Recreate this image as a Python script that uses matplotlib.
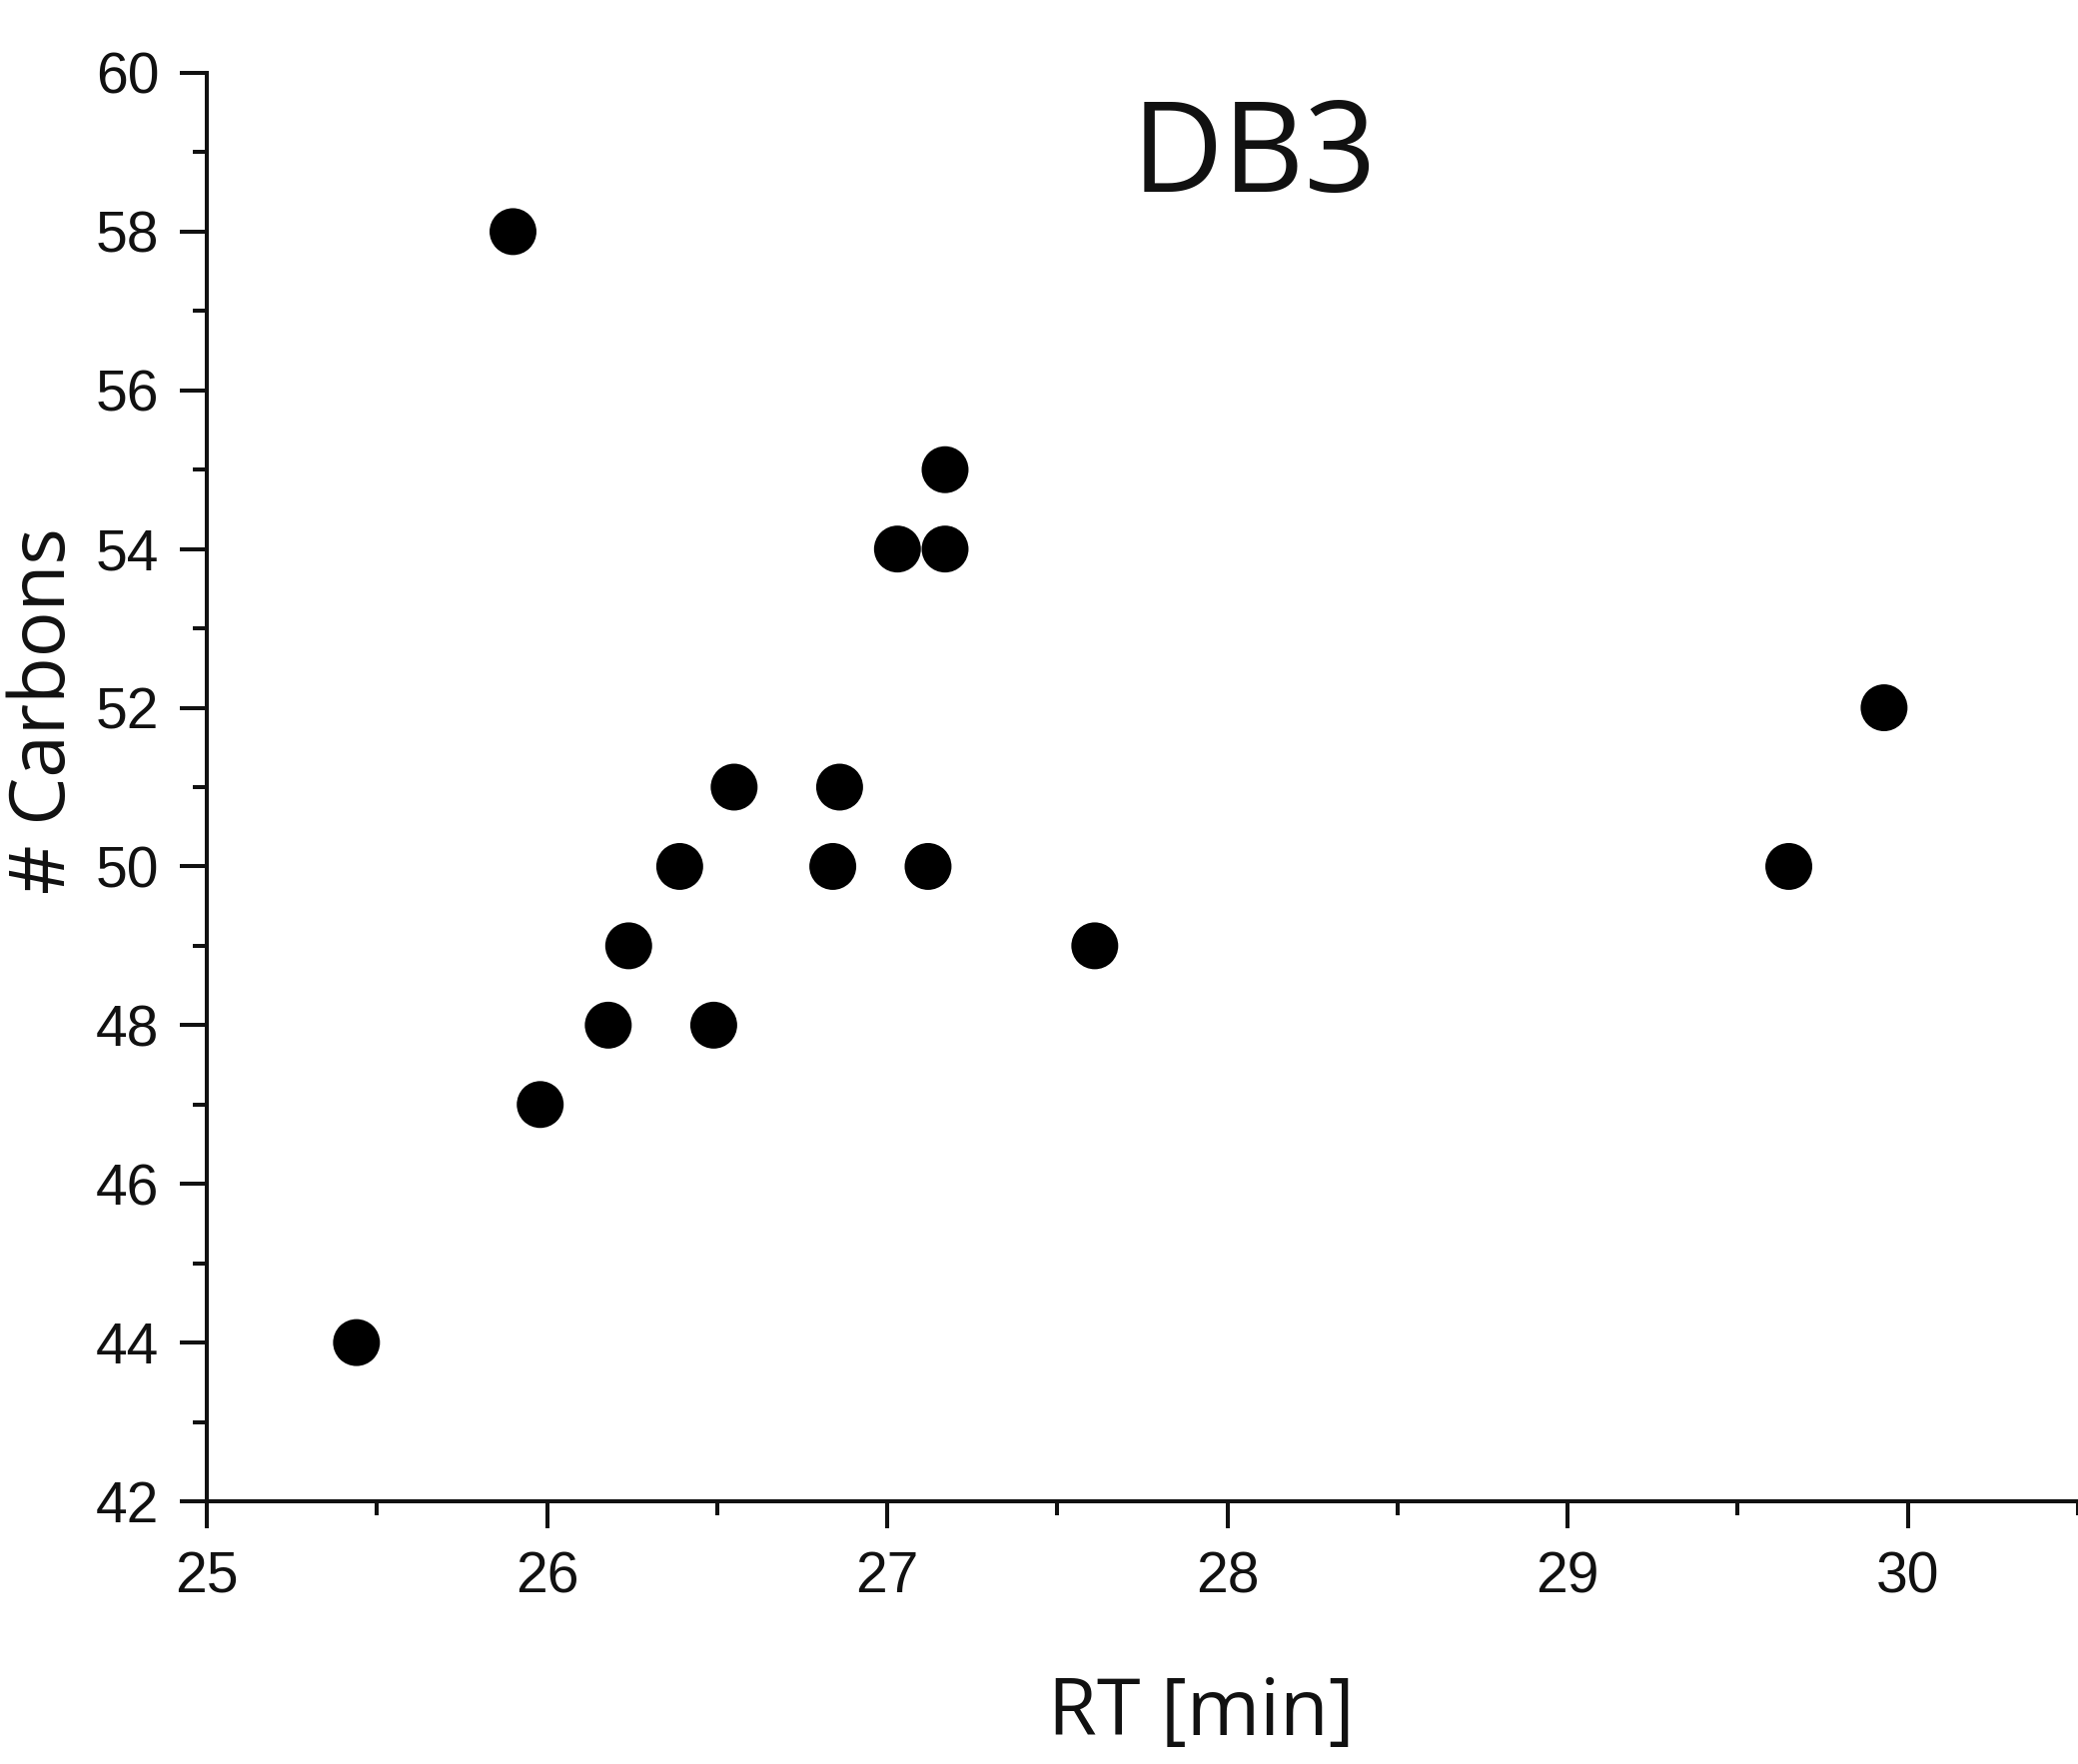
import matplotlib
matplotlib.use("Agg")
import matplotlib.pyplot as plt
from matplotlib.ticker import MultipleLocator

# Data
rt_min = [25.44, 25.90, 25.98, 26.18, 26.24, 26.39, 26.49, 26.55, 26.84, 26.86,
          27.03, 27.12, 27.17, 27.17, 27.61, 29.65, 29.93]
carbons = [44, 58, 47, 48, 49, 50, 48, 51, 50, 51,
           54, 50, 55, 54, 49, 50, 52]
x_ticks = [25, 26, 27, 28, 29, 30]
y_ticks = [42, 44, 46, 48, 50, 52, 54, 56, 58, 60]
title_text = "DB3"
x_label = "RT [min]"
y_label = "# Carbons"

W, H, DPI = 2080, 1766, 100
fig = plt.figure(figsize=(W / DPI, H / DPI), dpi=DPI)
left, bottom = 207 / W, 1 - 1503 / H
top = 1 - 73 / H
ax = fig.add_axes([left, bottom, 1.0 - left, top - bottom])

ax.scatter(rt_min, carbons, s=33.8 ** 2, color="black", edgecolors="none", zorder=3,
           clip_on=False)

ax.set_xlim(25, 30.5)
ax.set_ylim(42, 60)
ax.set_xticks(x_ticks)
ax.set_yticks(y_ticks)
ax.xaxis.set_minor_locator(MultipleLocator(0.5))
ax.yaxis.set_minor_locator(MultipleLocator(1))

for s in ["top", "right"]:
    ax.spines[s].set_visible(False)
for s in ["left", "bottom"]:
    ax.spines[s].set_linewidth(2.9)
    ax.spines[s].set_color("#111111")

tick_font = {"family": ["Liberation Sans", "DejaVu Sans"], "size": 41}
ax.tick_params(axis="both", which="major", direction="out", length=19.4, width=2.9,
               colors="#111111")
ax.tick_params(axis="both", which="minor", direction="out", length=10, width=2.9,
               colors="#111111")
ax.tick_params(axis="x", which="major", pad=16)
ax.tick_params(axis="y", which="major", pad=15)
ax.set_xticklabels([str(t) for t in x_ticks], fontdict=tick_font)
ax.set_yticklabels([str(t) for t in y_ticks], fontdict=tick_font)

label_family = ["Open Sans", "DejaVu Sans"]
fig.text(1202 / W, 1 - 1737 / H, x_label, ha="center", va="baseline",
         family=label_family, fontsize=57, color="#111111")
fig.text(45 / W, 1 - 712 / H, y_label, ha="center", va="center", rotation=90,
         family=label_family, fontsize=55, color="#111111")
fig.text(1255 / W, 1 - 192 / H, title_text, ha="center", va="baseline",
         family=label_family, fontsize=91, color="#111111")

fig.savefig("out.png", dpi=DPI)
